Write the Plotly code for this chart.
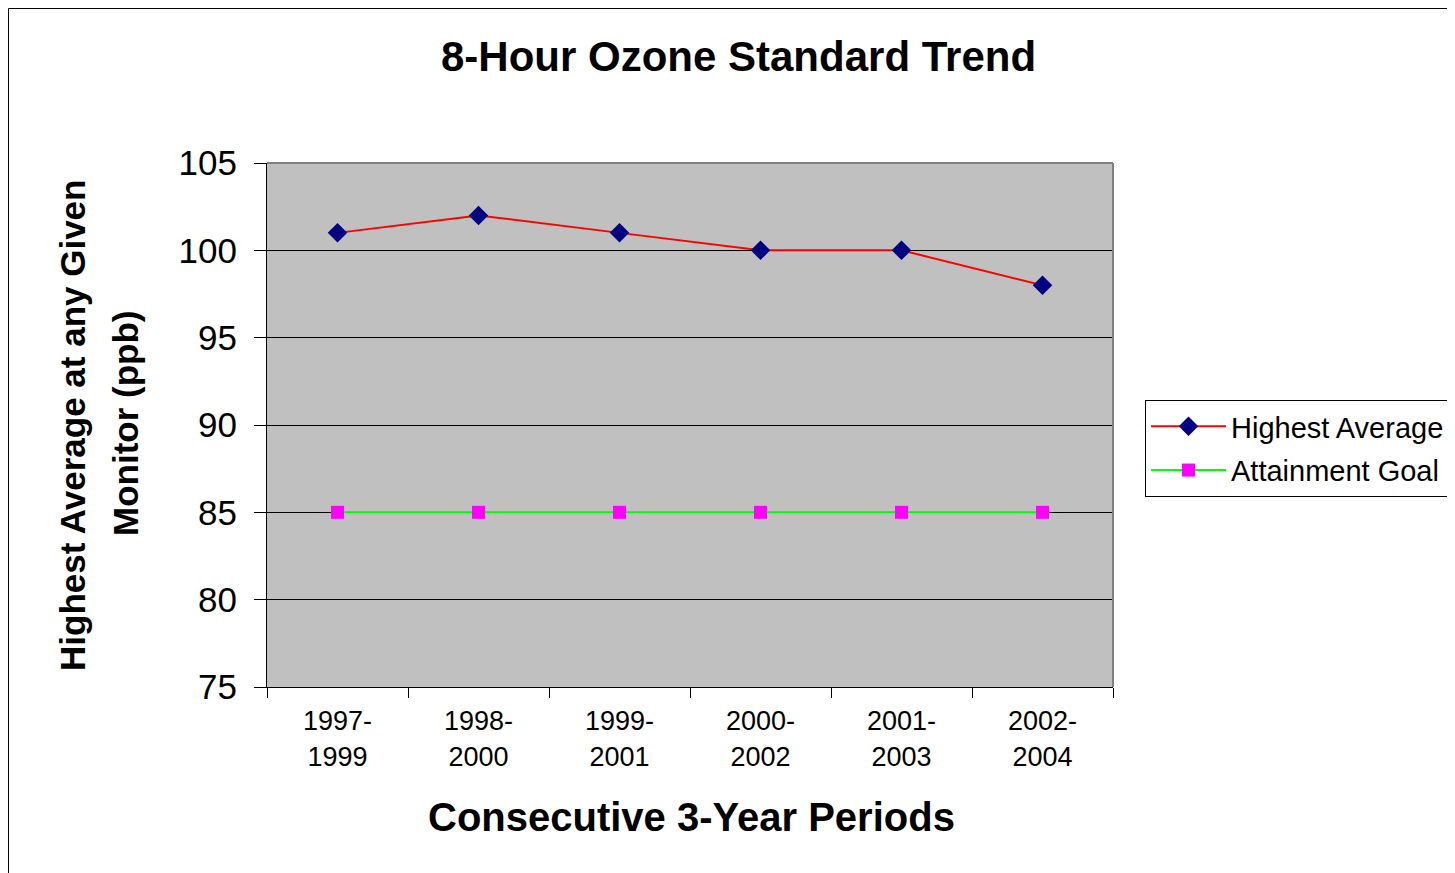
import plotly.graph_objects as go

periods = ["1997-<br>1999", "1998-<br>2000", "1999-<br>2001", "2000-<br>2002", "2001-<br>2003", "2002-<br>2004"]
highest_average = [101, 102, 101, 100, 100, 98]
attainment_goal = [85, 85, 85, 85, 85, 85]

OFF = 8  # default page body margin
W, H = 1455 - OFF, 873 - OFF
# plot area in screen pixels
L, R, T, B = 267, 1113, 163, 687
pw, ph = R - L, B - T

def px(x):
    return (x - L) / pw

def py(y):
    return (B - y) / ph

FONT = "Liberation Sans, Arial, sans-serif"

fig = go.Figure()
fig.add_trace(go.Scatter(
    x=periods, y=highest_average, name="Highest Average", mode="lines+markers",
    legendgroup="a",
    line=dict(color="#FF0000", width=2),
    marker=dict(symbol="diamond", size=15, color="#000080", line=dict(width=0)),
))
fig.add_trace(go.Scatter(
    x=periods, y=attainment_goal, name="Attainment Goal", mode="lines+markers",
    legendgroup="b",
    line=dict(color="#00FF00", width=2),
    marker=dict(symbol="square", size=13, color="#FF00FF", line=dict(width=0)),
))

fig.update_layout(
    width=W, height=H,
    margin=dict(l=L - OFF, r=W - (R - OFF), t=T - OFF, b=H - (B - OFF), autoexpand=False),
    paper_bgcolor="white", plot_bgcolor="#C0C0C0",
    font=dict(family=FONT, color="black"),
    showlegend=True,
    legend=dict(
        x=px(1145), y=py(400), xanchor="left", yanchor="top",
        bordercolor="black", borderwidth=1, bgcolor="white",
        font=dict(size=29, family=FONT), tracegroupgap=3, itemwidth=75,
    ),
)
fig.update_xaxes(
    type="category", tickson="boundaries", ticks="outside", ticklen=10,
    tickcolor="black", tickwidth=1, showgrid=False, showline=True,
    linecolor="black", linewidth=1, tickfont=dict(size=27), range=[-0.5, 5.5],
    ticklabelstandoff=10,
)
fig.update_yaxes(
    range=[75, 105], tickvals=[75, 80, 85, 90, 95, 100, 105], ticks="outside",
    ticklen=12, tickcolor="black", showgrid=True, gridcolor="black", gridwidth=1,
    showline=True, linecolor="black", linewidth=1, tickfont=dict(size=35),
    ticklabelstandoff=10, zeroline=False,
)
# gray top/right border of plot area
fig.add_shape(type="line", xref="paper", yref="paper", x0=0, x1=1, y0=1, y1=1,
              line=dict(color="#808080", width=2))
fig.add_shape(type="line", xref="paper", yref="paper", x0=1, x1=1, y0=0, y1=1,
              line=dict(color="#808080", width=2))
# outer chart border
fig.add_shape(type="rect", xref="paper", yref="paper", x0=px(8.5), x1=px(1480),
              y0=py(900), y1=py(8.5), line=dict(color="black", width=1), layer="below")

fig.add_annotation(text="<b>8-Hour Ozone Standard Trend</b>", xref="paper", yref="paper",
                   x=px(738), y=py(57), xanchor="center", yanchor="middle",
                   showarrow=False, font=dict(size=42))
fig.add_annotation(text="<b>Consecutive 3-Year Periods</b>", xref="paper", yref="paper",
                   x=px(691), y=py(817), xanchor="center", yanchor="middle",
                   showarrow=False, font=dict(size=40))
fig.add_annotation(text="<b>Highest Average at any Given</b>", xref="paper", yref="paper",
                   x=px(72), y=py(426), xanchor="center", yanchor="middle",
                   showarrow=False, textangle=-90, font=dict(size=35))
fig.add_annotation(text="<b>Monitor (ppb)</b>", xref="paper", yref="paper",
                   x=px(125), y=py(424), xanchor="center", yanchor="middle",
                   showarrow=False, textangle=-90, font=dict(size=35))

fig.write_html("out.html")
